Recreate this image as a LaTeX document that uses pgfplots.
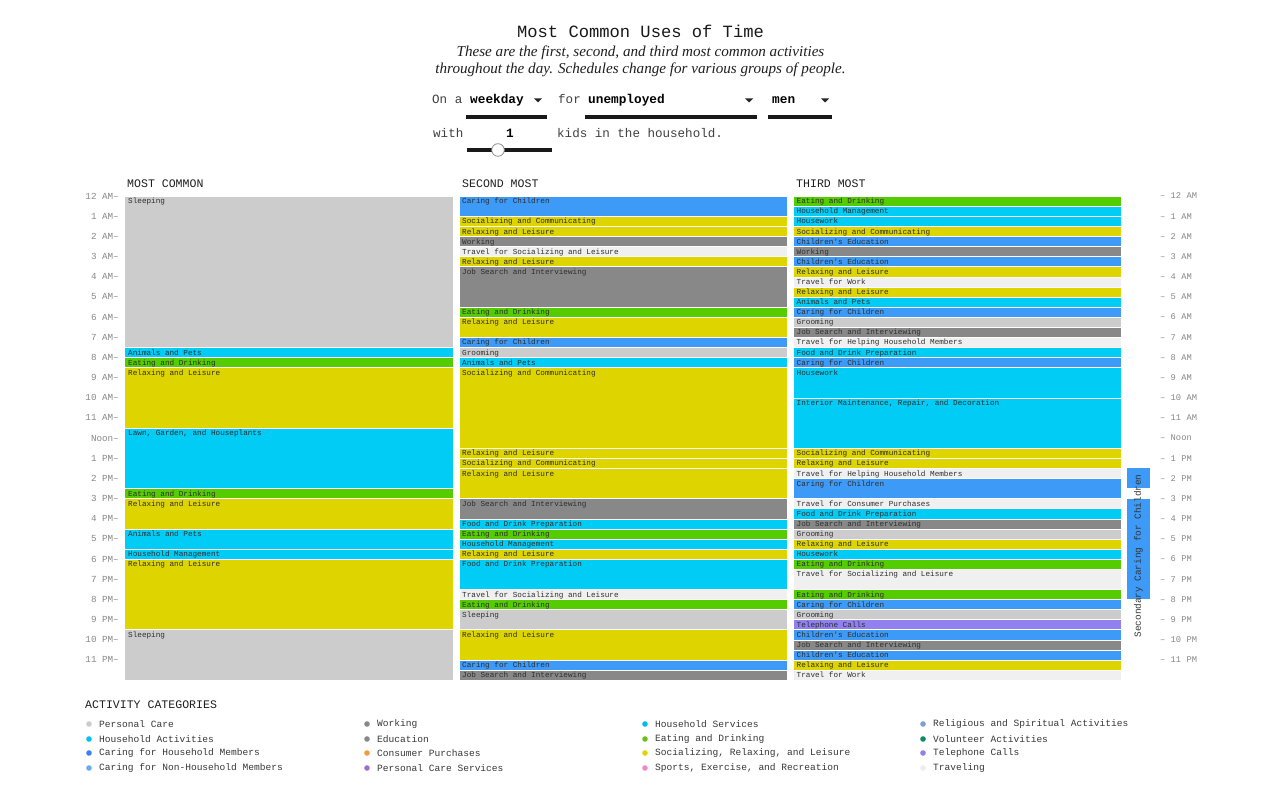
\documentclass[border=0pt]{standalone}
\usepackage{pgfplots}
\pgfplotsset{compat=1.18}
\usepackage{fontspec}
\setmainfont{Liberation Mono}
\newfontfamily\serifit{Liberation Serif}
\definecolor{pc}{HTML}{CCCCCC}
\definecolor{hh}{HTML}{00CCF5}
\definecolor{care}{HTML}{3D9AF7}
\definecolor{eat}{HTML}{55CC00}
\definecolor{soc}{HTML}{DDD400}
\definecolor{work}{HTML}{888888}
\definecolor{trav}{HTML}{F0F0F0}
\definecolor{tel}{HTML}{9080F0}
\definecolor{tickc}{HTML}{888888}
\definecolor{lgPC}{HTML}{CCCCCC}
\definecolor{lgHA}{HTML}{00C2F2}
\definecolor{lgCHM}{HTML}{3A80F2}
\definecolor{lgCNH}{HTML}{6AAAF2}
\definecolor{lgW}{HTML}{888888}
\definecolor{lgE}{HTML}{888888}
\definecolor{lgCP}{HTML}{F79A3A}
\definecolor{lgPCS}{HTML}{A070C8}
\definecolor{lgHS}{HTML}{00BBEE}
\definecolor{lgED}{HTML}{66C21A}
\definecolor{lgSR}{HTML}{DDD400}
\definecolor{lgSP}{HTML}{EE88C8}
\definecolor{lgRS}{HTML}{7F9FD0}
\definecolor{lgV}{HTML}{118866}
\definecolor{lgT}{HTML}{8F7FF0}
\definecolor{lgTR}{HTML}{EEEEEE}
\newcommand{\lf}{\fontsize{7.7}{8}\selectfont}
\newcommand{\blk}[7]{%
 \addplot[fill=#5, draw=white, line width=0.3bp] coordinates {(#1,#3) (#2,#3) (#2,#4) (#1,#4)} -- cycle;
 \node[anchor=north west, inner sep=0pt, text height=5.3bp, text depth=1.4bp, yshift=-2.3bp, font=\lf, text=black!82] at (axis cs:#7,#3) {#6};
}
\newcommand{\cA}[4]{\blk{124}{453}{#1}{#2}{#3}{#4}{128}}
\newcommand{\cB}[4]{\blk{459}{787}{#1}{#2}{#3}{#4}{462}}
\newcommand{\cC}[4]{\blk{793}{1121}{#1}{#2}{#3}{#4}{796.5}}
\newcommand{\ap}{\textquotesingle}
\begin{document}
\begin{tikzpicture}
\useasboundingbox[fill=white] (0,0) rectangle (1280bp,800bp);
% title
\node[font=\fontsize{17.2}{20}\selectfont, text=black!90] at (640.5bp,769bp) {Most Common Uses of Time};
\node[font=\serifit\itshape\fontsize{15.2}{17}\selectfont, align=center, text=black!88] at (640.5bp,738.5bp) {These are the first, second, and third most common activities\\throughout the day. Schedules change for various groups of people.};
% controls
\begin{scope}[font=\fontsize{12.6}{14}\selectfont]
\node[anchor=base west, inner sep=0pt, text=black!75] at (432bp,696bp) {On a};
\node[anchor=base west, inner sep=0pt, font=\bfseries\fontsize{12.8}{14}\selectfont] at (470bp,696bp) {weekday};
\fill[black!85] (534bp,701.5bp) -- (542bp,701.5bp) -- (538bp,697.5bp) -- cycle;
\draw[line width=4bp, black!90] (466bp,683bp) -- (547bp,683bp);
\node[anchor=base west, inner sep=0pt, text=black!75] at (558bp,696bp) {for};
\node[anchor=base west, inner sep=0pt, font=\bfseries\fontsize{12.8}{14}\selectfont] at (588bp,696bp) {unemployed};
\fill[black!85] (745bp,701.5bp) -- (753bp,701.5bp) -- (749bp,697.5bp) -- cycle;
\draw[line width=4bp, black!90] (585bp,683bp) -- (757bp,683bp);
\node[anchor=base west, inner sep=0pt, font=\bfseries\fontsize{12.8}{14}\selectfont] at (772bp,696bp) {men};
\fill[black!85] (821bp,701.5bp) -- (829bp,701.5bp) -- (825bp,697.5bp) -- cycle;
\draw[line width=4bp, black!90] (768bp,683bp) -- (832bp,683bp);
\node[anchor=base west, inner sep=0pt, text=black!75] at (433bp,662bp) {with};
\node[anchor=base, inner sep=0pt, font=\bfseries\fontsize{12.8}{14}\selectfont] at (510bp,662bp) {1};
\draw[line width=4bp, black!90] (467bp,650bp) -- (552bp,650bp);
\draw[fill=white, draw=black!45, line width=0.8bp] (498bp,650bp) circle (6.3bp);
\node[anchor=base west, inner sep=0pt, text=black!75] at (557bp,662bp) {kids in the household.};
\end{scope}
% column headers
\node[anchor=west, inner sep=0pt, font=\fontsize{11.6}{13}\selectfont, text=black!88] at (127bp,616.5bp) {MOST COMMON};
\node[anchor=west, inner sep=0pt, font=\fontsize{11.6}{13}\selectfont, text=black!88] at (462bp,616.5bp) {SECOND MOST};
\node[anchor=west, inner sep=0pt, font=\fontsize{11.6}{13}\selectfont, text=black!88] at (796bp,616.5bp) {THIRD MOST};
% main axis
\begin{axis}[at={(124bp,120bp)}, anchor=south west, scale only axis,
 width=1028bp, height=484bp, xmin=124, xmax=1152, ymin=0, ymax=24, y dir=reverse,
 axis line style={draw=none}, xtick=\empty, major tick length=0pt, clip=false,
 ytick={0,...,23},
 yticklabels={12 AM–,1 AM–,2 AM–,3 AM–,4 AM–,5 AM–,6 AM–,7 AM–,8 AM–,9 AM–,10 AM–,11 AM–,Noon–,1 PM–,2 PM–,3 PM–,4 PM–,5 PM–,6 PM–,7 PM–,8 PM–,9 PM–,10 PM–,11 PM–},
 yticklabel style={font=\fontsize{9.3}{10}\selectfont, text=tickc, anchor=east, inner sep=0pt, xshift=-5bp}]
% column 1
\cA{0}{7.5}{pc}{Sleeping}
\cA{7.5}{8}{hh}{Animals and Pets}
\cA{8}{8.5}{eat}{Eating and Drinking}
\cA{8.5}{11.5}{soc}{Relaxing and Leisure}
\cA{11.5}{14.5}{hh}{Lawn, Garden, and Houseplants}
\cA{14.5}{15}{eat}{Eating and Drinking}
\cA{15}{16.5}{soc}{Relaxing and Leisure}
\cA{16.5}{17.5}{hh}{Animals and Pets}
\cA{17.5}{18}{hh}{Household Management}
\cA{18}{21.5}{soc}{Relaxing and Leisure}
\cA{21.5}{24}{pc}{Sleeping}
% column 2
\cB{0}{1}{care}{Caring for Children}
\cB{1}{1.5}{soc}{Socializing and Communicating}
\cB{1.5}{2}{soc}{Relaxing and Leisure}
\cB{2}{2.5}{work}{Working}
\cB{2.5}{3}{trav}{Travel for Socializing and Leisure}
\cB{3}{3.5}{soc}{Relaxing and Leisure}
\cB{3.5}{5.5}{work}{Job Search and Interviewing}
\cB{5.5}{6}{eat}{Eating and Drinking}
\cB{6}{7}{soc}{Relaxing and Leisure}
\cB{7}{7.5}{care}{Caring for Children}
\cB{7.5}{8}{pc}{Grooming}
\cB{8}{8.5}{hh}{Animals and Pets}
\cB{8.5}{12.5}{soc}{Socializing and Communicating}
\cB{12.5}{13}{soc}{Relaxing and Leisure}
\cB{13}{13.5}{soc}{Socializing and Communicating}
\cB{13.5}{15}{soc}{Relaxing and Leisure}
\cB{15}{16}{work}{Job Search and Interviewing}
\cB{16}{16.5}{hh}{Food and Drink Preparation}
\cB{16.5}{17}{eat}{Eating and Drinking}
\cB{17}{17.5}{hh}{Household Management}
\cB{17.5}{18}{soc}{Relaxing and Leisure}
\cB{18}{19.5}{hh}{Food and Drink Preparation}
\cB{19.5}{20}{trav}{Travel for Socializing and Leisure}
\cB{20}{20.5}{eat}{Eating and Drinking}
\cB{20.5}{21.5}{pc}{Sleeping}
\cB{21.5}{23}{soc}{Relaxing and Leisure}
\cB{23}{23.5}{care}{Caring for Children}
\cB{23.5}{24}{work}{Job Search and Interviewing}
% column 3
\cC{0}{0.5}{eat}{Eating and Drinking}
\cC{0.5}{1}{hh}{Household Management}
\cC{1}{1.5}{hh}{Housework}
\cC{1.5}{2}{soc}{Socializing and Communicating}
\cC{2}{2.5}{care}{Children\ap s Education}
\cC{2.5}{3}{work}{Working}
\cC{3}{3.5}{care}{Children\ap s Education}
\cC{3.5}{4}{soc}{Relaxing and Leisure}
\cC{4}{4.5}{trav}{Travel for Work}
\cC{4.5}{5}{soc}{Relaxing and Leisure}
\cC{5}{5.5}{hh}{Animals and Pets}
\cC{5.5}{6}{care}{Caring for Children}
\cC{6}{6.5}{pc}{Grooming}
\cC{6.5}{7}{work}{Job Search and Interviewing}
\cC{7}{7.5}{trav}{Travel for Helping Household Members}
\cC{7.5}{8}{hh}{Food and Drink Preparation}
\cC{8}{8.5}{care}{Caring for Children}
\cC{8.5}{10}{hh}{Housework}
\cC{10}{12.5}{hh}{Interior Maintenance, Repair, and Decoration}
\cC{12.5}{13}{soc}{Socializing and Communicating}
\cC{13}{13.5}{soc}{Relaxing and Leisure}
\cC{13.5}{14}{trav}{Travel for Helping Household Members}
\cC{14}{15}{care}{Caring for Children}
\cC{15}{15.5}{trav}{Travel for Consumer Purchases}
\cC{15.5}{16}{hh}{Food and Drink Preparation}
\cC{16}{16.5}{work}{Job Search and Interviewing}
\cC{16.5}{17}{pc}{Grooming}
\cC{17}{17.5}{soc}{Relaxing and Leisure}
\cC{17.5}{18}{hh}{Housework}
\cC{18}{18.5}{eat}{Eating and Drinking}
\cC{18.5}{19.5}{trav}{Travel for Socializing and Leisure}
\cC{19.5}{20}{eat}{Eating and Drinking}
\cC{20}{20.5}{care}{Caring for Children}
\cC{20.5}{21}{pc}{Grooming}
\cC{21}{21.5}{tel}{Telephone Calls}
\cC{21.5}{22}{care}{Children\ap s Education}
\cC{22}{22.5}{work}{Job Search and Interviewing}
\cC{22.5}{23}{care}{Children\ap s Education}
\cC{23}{23.5}{soc}{Relaxing and Leisure}
\cC{23.5}{24}{trav}{Travel for Work}
% secondary activity
\addplot[fill=care, draw=none] coordinates {(1127,13.5) (1150,13.5) (1150,14.5) (1127,14.5)} -- cycle;
\addplot[fill=care, draw=none] coordinates {(1127,15) (1150,15) (1150,20) (1127,20)} -- cycle;
\node[rotate=90, font=\fontsize{9.4}{10}\selectfont, text=black!80] at (axis cs:1138.5,17.85) {Secondary Caring for Children};
\end{axis}
% right-hand time axis
\begin{axis}[at={(124bp,120bp)}, anchor=south west, scale only axis,
 width=1028bp, height=484bp, xmin=124, xmax=1152, ymin=0, ymax=24, y dir=reverse,
 axis line style={draw=none}, xtick=\empty, major tick length=0pt, yticklabel pos=right,
 ytick={0,...,23},
 yticklabels={– 12 AM,– 1 AM,– 2 AM,– 3 AM,– 4 AM,– 5 AM,– 6 AM,– 7 AM,– 8 AM,– 9 AM,– 10 AM,– 11 AM,– Noon,– 1 PM,– 2 PM,– 3 PM,– 4 PM,– 5 PM,– 6 PM,– 7 PM,– 8 PM,– 9 PM,– 10 PM,– 11 PM},
 yticklabel style={font=\fontsize{8.8}{10}\selectfont, text=tickc, anchor=west, inner sep=0pt, xshift=8bp}]
\addplot[draw=none] coordinates {(124,0) (1152,24)};
\end{axis}
% legend
\node[anchor=west, inner sep=0pt, font=\fontsize{11.6}{13}\selectfont, text=black!88] at (85bp,95.5bp) {ACTIVITY CATEGORIES};
\begin{scope}[font=\fontsize{9.6}{11}\selectfont]
\foreach \x/\y/\c/\t in {89/76/lgPC/Personal Care, 89/61/lgHA/Household Activities, 89/47/lgCHM/Caring for Household Members, 89/32/lgCNH/Caring for Non-Household Members,
 367/76/lgW/Working, 367/61/lgE/Education, 367/47/lgCP/Consumer Purchases, 367/32/lgPCS/Personal Care Services,
 645/76/lgHS/Household Services, 645/61/lgED/Eating and Drinking, 645/47/lgSR/{Socializing, Relaxing, and Leisure}, 645/32/lgSP/{Sports, Exercise, and Recreation},
 923/76/lgRS/Religious and Spiritual Activities, 923/61/lgV/Volunteer Activities, 923/47/lgT/Telephone Calls, 923/32/lgTR/Traveling}{
 \fill[\c] (\x bp,\y bp) circle (2.8bp);
 \node[anchor=west, inner sep=0pt, text=black!78] at (\x bp+10bp,\y bp) {\t};
}
\end{scope}
\end{tikzpicture}
\end{document}
